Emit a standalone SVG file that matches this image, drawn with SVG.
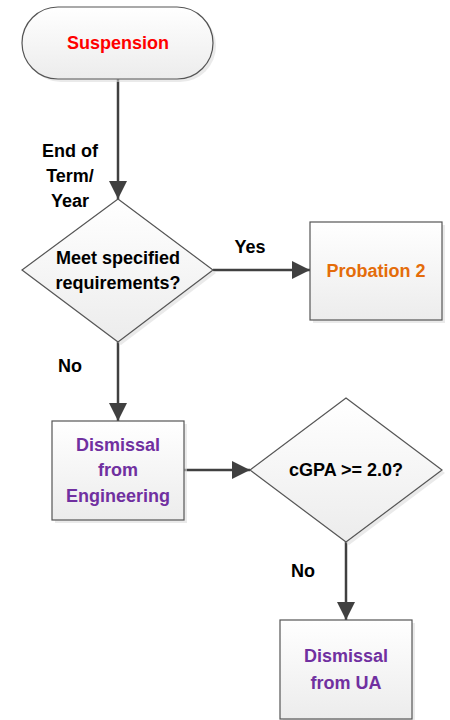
<svg xmlns="http://www.w3.org/2000/svg" width="450" height="720" viewBox="0 0 450 720">
<defs>
<linearGradient id="g" x1="0" y1="0" x2="0" y2="1">
<stop offset="0" stop-color="#ffffff"/>
<stop offset="1" stop-color="#ececec"/>
</linearGradient>
<marker id="ah" viewBox="0 0 18 18" refX="18" refY="9" markerWidth="18" markerHeight="18" orient="auto" markerUnits="userSpaceOnUse">
<path d="M0,0 L18,9 L0,18 z" fill="#404040"/>
</marker>
</defs>
<style>
.shape{fill:url(#g);stroke:#555555;stroke-width:1.2}
.shadow{fill:#dcdcdc;opacity:0.6}
.t{font-family:"Liberation Sans",Arial,sans-serif;font-weight:bold;font-size:18px;text-anchor:middle}
.lbl{fill:#000}
.conn{stroke:#404040;stroke-width:2.5;fill:none;marker-end:url(#ah)}
</style>
<rect width="450" height="720" fill="#fff"/>

<g id="connectors">
<path class="conn" d="M118,79 L118,199"/>
<path class="conn" d="M213,270 L310,270"/>
<path class="conn" d="M118,342 L118,421"/>
<path class="conn" d="M184,470 L250,470"/>
<path class="conn" d="M346,542 L346,620"/>
</g>

<g id="suspension">
<rect class="shadow" x="25" y="10" width="191" height="72" rx="36"/>
<rect class="shape" x="22" y="7" width="191" height="72" rx="36"/>
<text class="t" x="118" y="49" fill="#ff0000">Suspension</text>
</g>

<g id="label-endterm">
<text class="t lbl" x="70" y="157">End of</text>
<text class="t lbl" x="70" y="182">Term/</text>
<text class="t lbl" x="70" y="207">Year</text>
</g>

<g id="decision1">
<polygon class="shadow" points="121,202 216,273 121,345 25,273"/>
<polygon class="shape" points="118,199 213,270 118,342 22,270"/>
<text class="t lbl" x="118" y="264">Meet specified</text>
<text class="t lbl" x="118" y="289">requirements?</text>
</g>

<g id="label-yes">
<text class="t lbl" x="250" y="253">Yes</text>
</g>

<g id="probation2">
<rect class="shadow" x="313" y="225" width="132" height="98"/>
<rect class="shape" x="310" y="222" width="132" height="98"/>
<text class="t" x="376" y="277" fill="#e46c0a">Probation 2</text>
</g>

<g id="label-no1">
<text class="t lbl" x="70" y="372">No</text>
</g>

<g id="dismissal-eng">
<rect class="shadow" x="55" y="424" width="132" height="99"/>
<rect class="shape" x="52" y="421" width="132" height="99"/>
<text class="t" x="118" y="451" fill="#7030a0">Dismissal</text>
<text class="t" x="118" y="476" fill="#7030a0">from</text>
<text class="t" x="118" y="502" fill="#7030a0">Engineering</text>
</g>

<g id="decision2">
<polygon class="shadow" points="349,401 445,473 349,545 253,473"/>
<polygon class="shape" points="346,398 442,470 346,542 250,470"/>
<text class="t lbl" x="346" y="476">cGPA &gt;= 2.0?</text>
</g>

<g id="label-no2">
<text class="t lbl" x="303" y="577">No</text>
</g>

<g id="dismissal-ua">
<rect class="shadow" x="283" y="623" width="132" height="99"/>
<rect class="shape" x="280" y="620" width="132" height="99"/>
<text class="t" x="346" y="662" fill="#7030a0">Dismissal</text>
<text class="t" x="346" y="689" fill="#7030a0">from UA</text>
</g>
</svg>
